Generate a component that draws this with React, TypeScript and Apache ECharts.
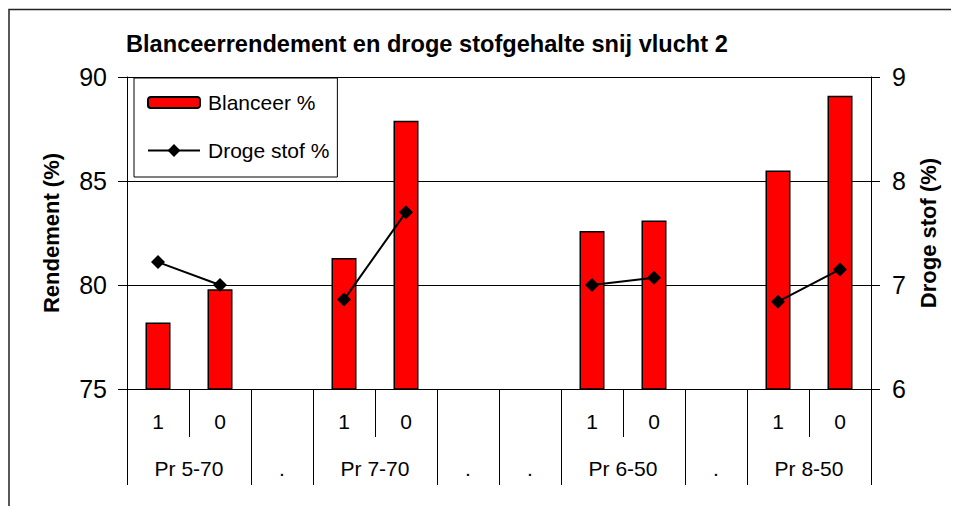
import React, { useEffect, useRef } from "react";
import * as echarts from "echarts";

const slotLabels = ["1", "0", "", "1", "0", "", "", "1", "0", "", "1", "0"];
const groupLabels = ["Pr 5-70", "", ".", "Pr 7-70", "", ".", ".", "Pr 6-50", "", ".", "Pr 8-50", ""];
const groupBoundaries = [0, 2, 3, 5, 6, 7, 9, 10];
const blanceer = [78.2, 79.8, null, 81.3, 87.9, null, null, 82.6, 83.1, null, 85.5, 89.1];
const drogeStof = [7.22, 7.0, null, 6.86, 7.7, null, null, 7.0, 7.07, null, 6.84, 7.15];
const leftTicks = { min: 75, max: 90, interval: 5 };
const rightTicks = { min: 6, max: 9, interval: 1 };

const FONT = "'Liberation Sans', Arial, Helvetica, sans-serif";

export default function App() {
  const ref = useRef<HTMLDivElement>(null);
  useEffect(() => {
    if (!ref.current) return;
    const chart = echarts.init(ref.current, undefined, { renderer: "svg" });
    chart.setOption({
      animation: false,
      backgroundColor: "#fff",
      textStyle: { fontFamily: FONT, color: "#000" },
      title: {
        text: "Blanceerrendement en droge stofgehalte snij vlucht 2",
        left: 118,
        top: 24,
        padding: 0,
        textStyle: { fontFamily: FONT, fontSize: 23.6, fontWeight: "bold", color: "#000" },
      },
      graphic: [
        {
          type: "rect",
          shape: { x: 1, y: 1.5, width: 1200, height: 1200 },
          style: { fill: "none", stroke: "#222", lineWidth: 1.5 },
          silent: true,
        },
      ],
      legend: [
        {
          orient: "vertical",
          left: 126,
          top: 70,
          padding: [14, 22, 64, 13],
          itemWidth: 52,
          itemHeight: 11,
          borderColor: "#000",
          borderWidth: 1,
          backgroundColor: "#fff",
          textStyle: { fontFamily: FONT, fontSize: 21, color: "#000", padding: [0, 0, 0, 3] },
          data: ["Blanceer %"],
          z: 4,
        },
        {
          orient: "vertical",
          left: 139,
          top: 132,
          padding: 0,
          itemWidth: 52,
          itemHeight: 16,
          textStyle: { fontFamily: FONT, fontSize: 21, color: "#000", padding: [0, 0, 0, 3] },
          data: ["Droge stof %"],
          z: 6,
        },
      ],
      grid: { left: 119, right: 88, top: 69, bottom: 117, containLabel: false },
      xAxis: [
        {
          type: "category",
          position: "bottom",
          data: slotLabels,
          axisLine: { show: true, onZero: false, lineStyle: { color: "#000", width: 1 } },
          axisTick: { show: true, length: 48, interval: 0, lineStyle: { color: "#000", width: 1 } },
          axisLabel: { interval: 0, margin: 22, fontSize: 21, fontFamily: FONT, color: "#000" },
          splitLine: { show: false },
        },
        {
          type: "category",
          position: "bottom",
          data: groupLabels,
          axisLine: { show: false, onZero: false },
          axisTick: {
            show: true,
            length: 96,
            interval: (i: number) => groupBoundaries.includes(i),
            lineStyle: { color: "#000", width: 1 },
          },
          axisLabel: {
            interval: 0,
            margin: 69,
            fontSize: 21,
            fontFamily: FONT,
            color: "#000",
            formatter: (v: string) => (v && v !== "." ? `{g|${v}}` : v),
            rich: { g: { padding: [0, 0, 0, 62], fontSize: 21, fontFamily: FONT, color: "#000" } },
          },
          splitLine: { show: false },
        },
      ],
      yAxis: [
        {
          type: "value",
          position: "left",
          ...leftTicks,
          name: "Rendement (%)",
          nameLocation: "middle",
          nameRotate: 90,
          nameGap: 65,
          nameTextStyle: { fontFamily: FONT, fontSize: 22, fontWeight: "bold", color: "#000" },
          axisLine: { show: true, lineStyle: { color: "#000", width: 1 } },
          axisTick: { show: true, length: 9, lineStyle: { color: "#000", width: 1 } },
          axisLabel: { margin: 20, fontSize: 25, fontFamily: FONT, color: "#000" },
          splitLine: { show: true, lineStyle: { color: "#000", width: 1 } },
        },
        {
          type: "value",
          position: "right",
          ...rightTicks,
          name: "Droge stof (%)",
          nameLocation: "middle",
          nameRotate: 90,
          nameGap: 46,
          nameTextStyle: { fontFamily: FONT, fontSize: 22, fontWeight: "bold", color: "#000" },
          axisLine: { show: true, lineStyle: { color: "#000", width: 1 } },
          axisTick: { show: true, length: 9, lineStyle: { color: "#000", width: 1 } },
          axisLabel: { margin: 21, fontSize: 25, fontFamily: FONT, color: "#000" },
          splitLine: { show: false },
        },
      ],
      series: [
        {
          name: "Blanceer %",
          type: "bar",
          xAxisIndex: 0,
          yAxisIndex: 0,
          data: blanceer,
          barWidth: 25,
          itemStyle: { color: "#ff0000", borderColor: "#000", borderWidth: 1.5 },
        },
        {
          name: "Droge stof %",
          type: "line",
          xAxisIndex: 0,
          yAxisIndex: 1,
          data: drogeStof,
          connectNulls: false,
          symbol: "diamond",
          symbolSize: 14,
          lineStyle: { color: "#000", width: 2 },
          itemStyle: { color: "#000" },
        },
      ],
    });
    return () => chart.dispose();
  }, []);
  return <div ref={ref} style={{ width: 951, height: 498 }} />;
}
